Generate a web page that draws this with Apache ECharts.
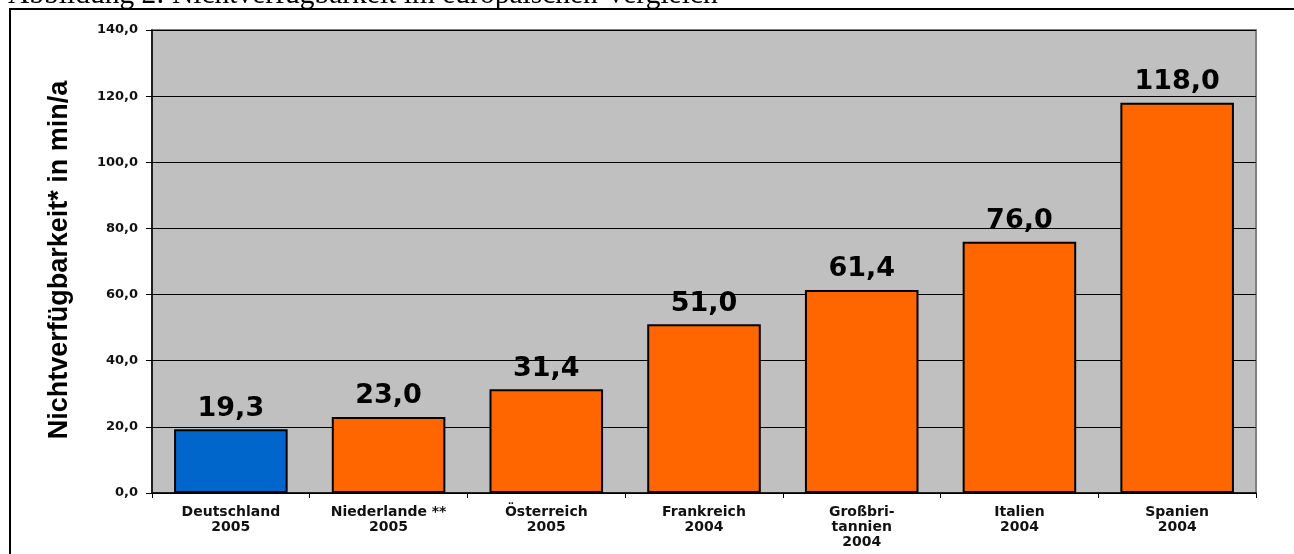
<!DOCTYPE html>
<html>
<head>
<meta charset="utf-8">
<script src="https://cdn.jsdelivr.net/npm/echarts@6/dist/echarts.min.js"></script>
<style>
  html, body { margin: 0; padding: 0; background: #fff; }
  #chart { width: 1294px; height: 554px; }
</style>
</head>
<body>
<div id="chart"></div>
<script>
// data
const countries = ['Deutschland\n2005', 'Niederlande **\n2005', 'Österreich\n2005', 'Frankreich\n2004', 'Großbri-\ntannien\n2004', 'Italien\n2004', 'Spanien\n2004']
const values = [19.3, 23.0, 31.4, 51.0, 61.4, 76.0, 118.0]
const barColors = ['#0066CC', '#FF6600', '#FF6600', '#FF6600', '#FF6600', '#FF6600', '#FF6600']
const yMin = 0
const yMax = 140
const yStep = 20

const deNum = v => v.toFixed(1).replace('.', ',')

const chart = echarts.init(document.getElementById('chart'))
const option = {
  backgroundColor: '#fff',
  animation: false,
  graphic: [
    {
      type: 'text',
      left: 8,
      top: -20,
      style: {
        text: 'Abbildung 2: Nichtverfügbarkeit im europäischen Vergleich',
        font: '29.5px "Liberation Serif"',
        fill: '#000'
      }
    },
    {
      type: 'rect',
      shape: { x: 10, y: 9, width: 1300, height: 600 },
      style: { fill: 'none', stroke: '#000', lineWidth: 2 }
    },
    {
      type: 'text',
      x: 60,
      y: 260,
      rotation: Math.PI / 2,
      style: {
        text: 'Nichtverfügbarkeit* in min/a',
        font: 'bold 27px "Liberation Sans"',
        fill: '#000',
        align: 'center',
        verticalAlign: 'middle'
      }
    }
  ],
  grid: {
    left: 152,
    right: 38,
    top: 30,
    bottom: 61,
    show: true,
    backgroundColor: '#C0C0C0',
    borderColor: '#808080',
    borderWidth: 2
  },
  xAxis: {
    type: 'category',
    data: countries,
    axisLine: { lineStyle: { color: '#000', width: 1.5 } },
    axisTick: { show: true, length: 5, lineStyle: { color: '#000' } },
    axisLabel: {
      margin: 12,
      fontFamily: 'DejaVu Sans',
      fontWeight: 'bold',
      fontSize: 14,
      lineHeight: 15,
      color: '#111'
    }
  },
  yAxis: {
    type: 'value',
    min: yMin,
    max: yMax,
    interval: yStep,
    axisLine: { show: true, lineStyle: { color: '#000', width: 1.5 } },
    axisTick: { show: true, length: 6, lineStyle: { color: '#000' } },
    splitLine: { lineStyle: { color: '#000', width: 1 } },
    axisLabel: {
      margin: 14,
      fontFamily: 'DejaVu Sans',
      fontWeight: 'bold',
      fontSize: 13,
      color: '#111',
      formatter: v => deNum(v)
    }
  },
  series: [
    {
      type: 'bar',
      data: values.map((v, i) => ({ value: v, itemStyle: { color: barColors[i] } })),
      barCategoryGap: '28%',
      itemStyle: { borderColor: '#000', borderWidth: 2 },
      label: {
        show: true,
        position: 'top',
        distance: 7,
        fontFamily: 'DejaVu Sans',
        fontWeight: 'bold',
        fontSize: 27,
        color: '#000',
        formatter: p => deNum(p.value)
      }
    }
  ]
}
chart.setOption(option)
</script>
</body>
</html>
